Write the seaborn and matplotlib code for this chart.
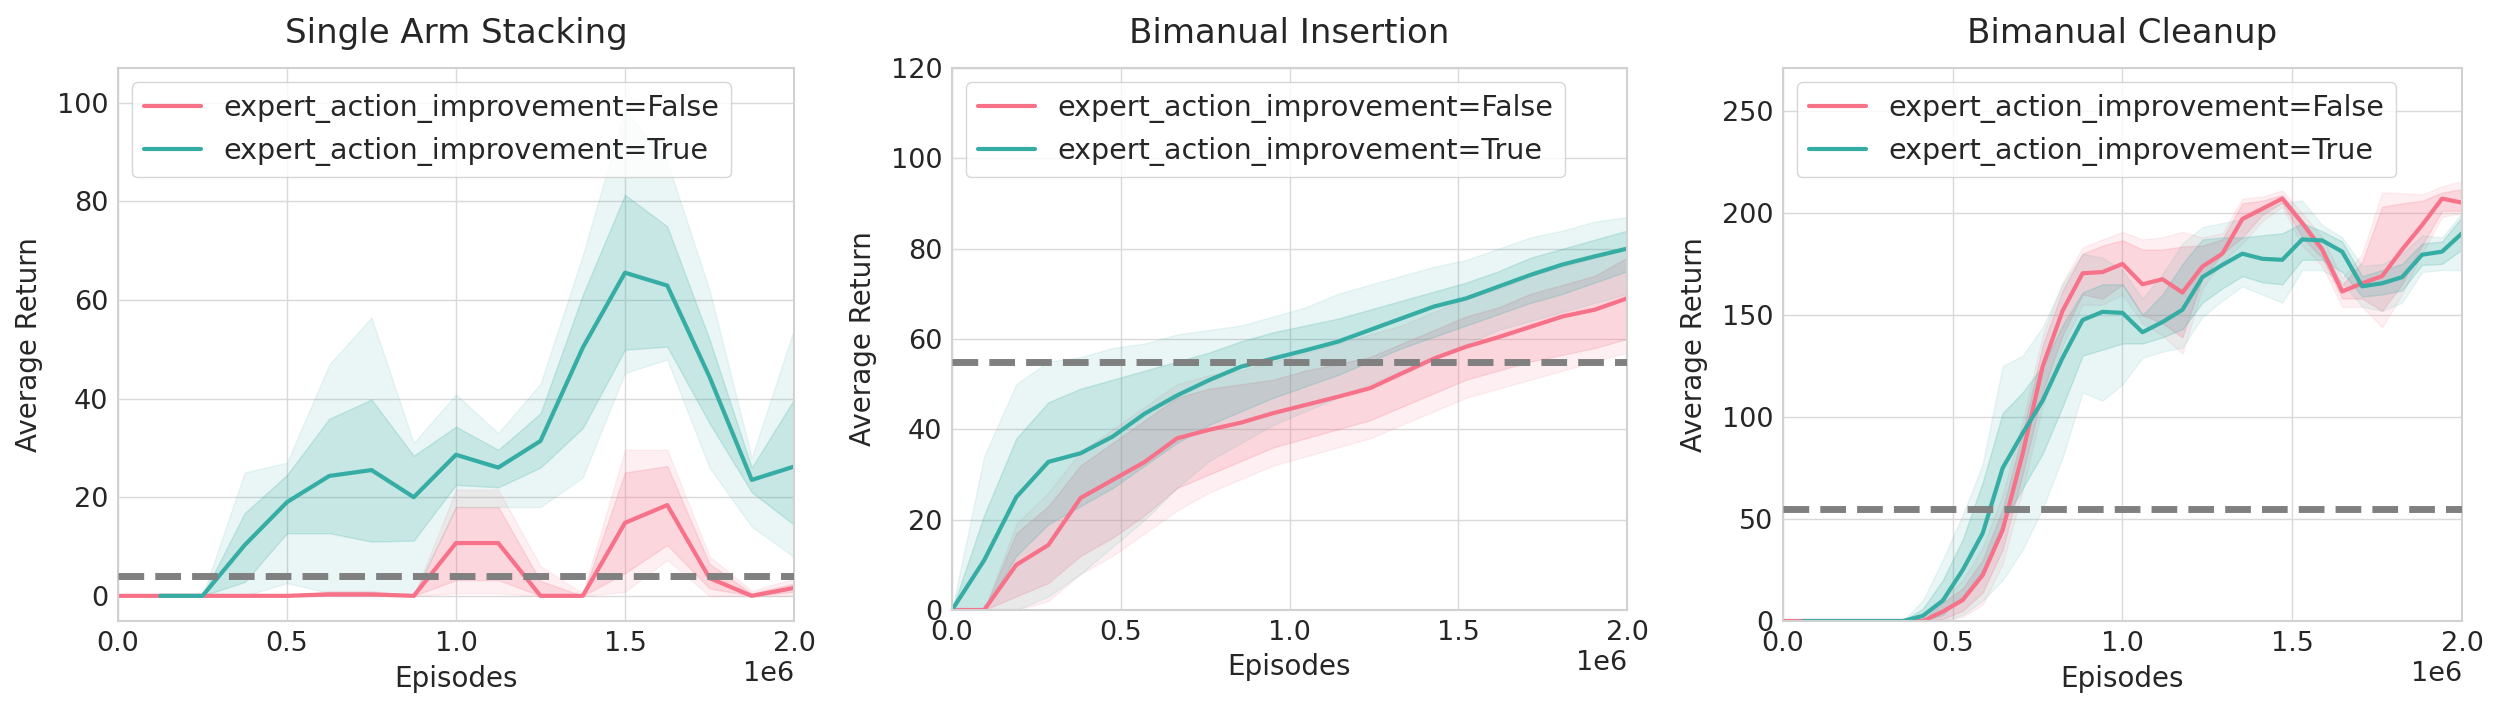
import numpy as np
import pandas as pd
import matplotlib
matplotlib.use("Agg")
import matplotlib.pyplot as plt
import seaborn as sns

# ---------------- data ----------------
TITLES = ["Single Arm Stacking", "Bimanual Insertion", "Bimanual Cleanup"]
HUE_LABELS = ["expert_action_improvement=False", "expert_action_improvement=True"]
BASELINES = [4, 55, 55]
YLIMS = [(-5.1, 107), (0, 120), (0, 271)]
YTICKS = [[0, 20, 40, 60, 80, 100], [0, 20, 40, 60, 80, 100, 120], [0, 50, 100, 150, 200, 250]]

# Panel 1: Single Arm Stacking (x in millions of episodes)
p1_x = [0, 0.125, 0.25, 0.375, 0.5, 0.625, 0.75, 0.875, 1.0, 1.125, 1.25, 1.375, 1.5, 1.625, 1.75, 1.875, 2.0]
p1_false_mean = [0, 0, 0, 0, 0, 0.3, 0.3, 0, 10.7, 10.7, 0, 0, 14.8, 18.4, 3.6, 0, 1.6]
p1_false_in_lo = [0, 0, 0, 0, 0, 0, 0, 0, 3.2, 3.2, 0, 0, 4.6, 10.3, 1.5, 0, 0.8]
p1_false_in_hi = [0, 0, 0, 0, 0, 0.7, 0.7, 0, 18, 18, 3, 0, 25, 26.3, 6.5, 0.5, 2.5]
p1_false_out_lo = [0, 0, 0, 0, 0, 0, 0, 0, 0.5, 0.5, 0, 0, 0.8, 7.3, 0, 0, 0]
p1_false_out_hi = [0, 0, 0, 0, 0, 1, 1, 0, 21.5, 21.5, 6, 0.5, 29.6, 29.6, 8, 1, 3.5]
p1_true_x = [0.125, 0.25, 0.375, 0.5, 0.625, 0.75, 0.875, 1.0, 1.125, 1.25, 1.375, 1.5, 1.625, 1.75, 1.875, 2.0]
p1_true_mean = [0, 0, 10.3, 19, 24.3, 25.5, 20, 28.6, 26, 31.4, 50.3, 65.5, 62.9, 44.4, 23.5, 26.2]
p1_true_in_lo = [0, 0, 2.8, 12.7, 12.7, 11, 11.2, 22.5, 22, 26, 34, 49.9, 50.5, 35, 21, 14.4]
p1_true_in_hi = [0, 0, 16.8, 24.5, 35.9, 39.8, 28.4, 34.3, 29.6, 37, 61, 81.3, 74.9, 52, 26, 39.8]
p1_true_out_lo = [0, 0, 0, 2.6, 0.6, 0.3, 0, 18, 18, 18, 24, 45.2, 47.9, 26, 14, 7.9]
p1_true_out_hi = [0, 0, 25, 27, 46.9, 56.4, 31, 40.8, 33, 43, 69, 98.6, 88, 62, 28, 54]

# Panel 2: Bimanual Insertion
p2_x = [0, 0.0952, 0.1905, 0.2857, 0.381, 0.4762, 0.5714, 0.6667, 0.7619, 0.8571, 0.9524,
        1.0476, 1.1429, 1.2381, 1.3333, 1.4286, 1.5238, 1.619, 1.7143, 1.8095, 1.9048, 2.0]
p2_false_mean = [0, 0, 10, 14.4, 24.8, 28.8, 32.8, 38, 39.9, 41.5, 43.6, 45.4, 47.2, 49.1, 52.4, 55.7, 58.3, 60.4, 62.7, 65, 66.5, 69]
p2_false_in_lo = [0, 0, 3, 6, 12, 16, 21, 27, 30, 33, 36, 38, 40, 42, 45, 48, 51, 53, 55, 56.5, 58, 60]
p2_false_in_hi = [0, 0, 17, 23, 32, 37, 42, 47, 49, 50, 51, 53, 54.5, 56, 59, 62, 65, 67, 70, 72, 74, 78]
p2_false_out_lo = [0, 0, 0, 2, 8, 12, 17, 22, 26, 29, 32, 34, 36, 38, 41, 44, 47, 49, 51, 53, 55, 57]
p2_false_out_hi = [0, 0, 19, 26, 35, 40, 45, 50, 52, 53, 55, 57, 59, 61, 63, 66, 69, 71, 74, 76, 78, 80]
p2_true_mean = [0, 11, 25, 32.8, 34.7, 38.4, 43.5, 47.5, 50.9, 53.9, 55.7, 57.5, 59.4, 62, 64.6, 67.2, 69, 71.6, 74.2, 76.5, 78.3, 80]
p2_true_in_lo = [0, 0, 12, 19, 23, 27, 32, 37, 41, 44, 47, 49.5, 52, 55, 58, 60.5, 63, 65.5, 68, 70, 72.5, 75]
p2_true_in_hi = [0, 21, 38, 46, 49, 51, 53, 55, 57, 59.5, 61.5, 63, 64.5, 66.5, 68.5, 70.5, 72.5, 75, 78, 80, 82, 84]
p2_true_out_lo = [0, 0, 0, 3, 8, 14, 20, 27, 33, 37, 41, 44, 47, 50, 53, 56, 59, 62, 64, 66, 68, 70]
p2_true_out_hi = [0, 34, 50, 55, 56, 58, 59, 61, 62, 63, 65, 67, 70, 72, 74, 76, 77.5, 80, 82.5, 84, 86, 87]

# Panel 3: Bimanual Cleanup
p3_x = [0, 0.0588, 0.1176, 0.1765, 0.2353, 0.2941, 0.3529, 0.4118, 0.4706, 0.5294, 0.5882, 0.6471,
        0.7059, 0.7647, 0.8235, 0.8824, 0.9412, 1.0, 1.0588, 1.1176, 1.1765, 1.2353, 1.2941, 1.3529,
        1.4118, 1.4706, 1.5294, 1.5882, 1.6471, 1.7059, 1.7647, 1.8235, 1.8824, 1.9412, 2.0]
p3_false_mean = [0, 0, 0, 0, 0, 0, 0, 0, 4.6, 10.3, 22.5, 44.6, 82, 124.7, 152, 170.4, 171, 175,
                 165, 167.5, 161, 173.7, 180, 197, 202, 207, 195, 182, 161.5, 165.5, 169, 182, 194, 207, 205]
p3_false_in_lo = [0, 0, 0, 0, 0, 0, 0, 0, 1, 5, 14, 35, 72, 112, 140, 160, 158, 165,
                  150, 146, 139, 168, 180, 188, 199, 205, 188, 178, 158, 158, 152, 165, 184, 201, 201]
p3_false_in_hi = [0, 0, 0, 0, 0, 0, 0, 0, 9, 16, 30, 55, 92, 135, 162, 180, 184, 186.6,
                  182, 182, 183.5, 184, 187, 204.7, 206, 208.8, 196.6, 183.5, 164.7, 176, 203, 204.7, 205.9, 210, 211.6]
p3_false_out_lo = [0, 0, 0, 0, 0, 0, 0, 0, 0, 2, 8, 28, 64, 105, 135, 155, 155, 160,
                   146, 140, 131, 163, 176, 185, 196, 203, 184, 174, 154, 154, 144, 160, 180, 198, 200]
p3_false_out_hi = [0, 0, 0, 0, 0, 0, 0, 0, 11, 20, 36, 62, 98, 140, 166, 183, 187, 190.6,
                   187, 188, 190.7, 188, 190, 207, 208, 211, 200, 188, 168, 180, 210, 209.6, 209, 213, 215.6]
p3_true_x = p3_x[1:]
p3_true_mean = [0, 0, 0, 0, 0, 0, 2.5, 10, 25, 43, 75, 92, 108, 129, 147.5, 151.5, 151, 141.5, 146.5,
                152.5, 168.5, 174.5, 180, 177.5, 177, 187, 186.5, 181, 164, 165.5, 168.5, 179.5, 181, 190]
p3_true_in_lo = [0, 0, 0, 0, 0, 0, 0, 3, 12, 25, 48, 65, 82, 105, 130, 133, 136, 136, 139,
                 143, 156, 163, 169, 166, 165, 177, 177, 171, 159, 160, 162, 174.5, 175, 182]
p3_true_in_hi = [0, 0, 0, 0, 0, 0, 6, 20, 40, 68, 102, 112, 125, 145, 161, 165, 165, 150, 160,
                 175, 187, 188, 188, 189, 190, 195, 191, 186, 169, 172, 175, 185, 186, 198]
p3_true_out_lo = [0, 0, 0, 0, 0, 0, 0, 0, 3, 10, 20, 35, 55, 80, 112, 108, 116, 129, 132,
                  134, 149, 157, 164, 160, 156, 172, 172, 166, 154, 152, 156, 171, 172, 172]
p3_true_out_hi = [0, 0, 0, 0, 0, 0, 10, 30, 52, 77, 125, 130, 144, 165, 180, 178, 172, 158, 170,
                  185, 193, 195, 197, 201, 205, 206, 194, 188, 174, 175, 180, 189, 188, 200]

PANELS = [
    dict(fx=p1_x, fm=p1_false_mean, fil=p1_false_in_lo, fih=p1_false_in_hi, fol=p1_false_out_lo, foh=p1_false_out_hi,
         tx=p1_true_x, tm=p1_true_mean, til=p1_true_in_lo, tih=p1_true_in_hi, tol=p1_true_out_lo, toh=p1_true_out_hi),
    dict(fx=p2_x, fm=p2_false_mean, fil=p2_false_in_lo, fih=p2_false_in_hi, fol=p2_false_out_lo, foh=p2_false_out_hi,
         tx=p2_x, tm=p2_true_mean, til=p2_true_in_lo, tih=p2_true_in_hi, tol=p2_true_out_lo, toh=p2_true_out_hi),
    dict(fx=p3_x, fm=p3_false_mean, fil=p3_false_in_lo, fih=p3_false_in_hi, fol=p3_false_out_lo, foh=p3_false_out_hi,
         tx=p3_true_x, tm=p3_true_mean, til=p3_true_in_lo, tih=p3_true_in_hi, tol=p3_true_out_lo, toh=p3_true_out_hi),
]

# ---------------- style ----------------
sns.set_theme(style="whitegrid")
plt.rcParams["font.family"] = ["DejaVu Sans"]
plt.rcParams["axes.edgecolor"] = "0.82"
plt.rcParams["grid.color"] = "0.85"
plt.rcParams["text.color"] = "0.15"
plt.rcParams["axes.labelcolor"] = "0.15"
plt.rcParams["xtick.color"] = "0.15"
plt.rcParams["ytick.color"] = "0.15"

palette = sns.color_palette("husl", 2)
pal = dict(zip(HUE_LABELS, palette))

W, H = 2500, 707
fig = plt.figure(figsize=(W / 100, H / 100), dpi=100)

# axes boxes in pixels: left, top, right, bottom
boxes = [(118, 68, 794, 621), (952, 68, 1627, 610), (1783, 68, 2462, 621)]

for i, (p, (l, t, r, b)) in enumerate(zip(PANELS, boxes)):
    ax = fig.add_axes([l / W, (H - b) / H, (r - l) / W, (b - t) / H])
    fx = np.array(p["fx"]) * 1e6
    tx = np.array(p["tx"]) * 1e6
    cf, ct = pal[HUE_LABELS[0]], pal[HUE_LABELS[1]]

    ax.fill_between(fx, p["fol"], p["foh"], color=cf, alpha=0.1)
    ax.fill_between(fx, p["fil"], p["fih"], color=cf, alpha=0.2)
    ax.fill_between(tx, p["tol"], p["toh"], color=ct, alpha=0.1)
    ax.fill_between(tx, p["til"], p["tih"], color=ct, alpha=0.2)

    df = pd.concat([
        pd.DataFrame({"Episodes": fx, "Average Return": p["fm"], "hue": HUE_LABELS[0]}),
        pd.DataFrame({"Episodes": tx, "Average Return": p["tm"], "hue": HUE_LABELS[1]}),
    ], ignore_index=True)
    sns.lineplot(data=df, x="Episodes", y="Average Return", hue="hue", hue_order=HUE_LABELS,
                 palette=pal, linewidth=3, errorbar=None, ax=ax)

    ax.axhline(BASELINES[i], color="#808080", linestyle="--", linewidth=5, zorder=5)

    ax.set_xlim(0, 2e6)
    ax.set_ylim(*YLIMS[i])
    ax.set_yticks(YTICKS[i])
    ax.set_xticks([0, 0.5e6, 1.0e6, 1.5e6, 2.0e6])
    ax.tick_params(labelsize=19.5, pad=7, length=0)
    ax.xaxis.get_offset_text().set_fontsize(19.5)
    ax.set_title(TITLES[i], fontsize=24.5, pad=18)
    ax.set_xlabel("Episodes", fontsize=20)
    ax.set_ylabel("Average Return", fontsize=20)
    ax.yaxis.set_label_coords(-0.111, 0.5)
    ax.xaxis.set_label_coords(0.5, -0.08)
    for s in ax.spines.values():
        s.set_linewidth(1.5)

    handles, labels = ax.get_legend_handles_labels()
    ax.legend(handles, labels, loc="upper left", fontsize=20.5, frameon=True)

fig.savefig("out.png", dpi=100)
